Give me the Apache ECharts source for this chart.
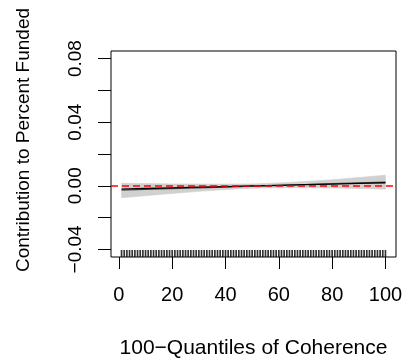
<!DOCTYPE html>
<html>
<head>
<meta charset="utf-8">
<script src="https://cdn.jsdelivr.net/npm/echarts@6/dist/echarts.min.js"></script>
<style>
html,body{margin:0;padding:0;background:#fff;}
#c{width:406px;height:364px;}
</style>
</head>
<body>
<div id="c"></div>
<script>
// ---- data ----
const bandX   = [1, 10, 20, 30, 40, 50, 60, 70, 80, 90, 100];
const bandLow = [-0.0076, -0.0062, -0.0048, -0.0035, -0.0024, -0.0015, -0.0012, -0.0012, -0.0014, -0.0017, -0.0021];
const bandHigh= [0.0016, 0.0014, 0.0012, 0.0011, 0.0011, 0.0012, 0.0018, 0.0027, 0.0038, 0.0052, 0.0067];
const fitGray = [-0.0028, -0.0023, -0.0018, -0.0013, -0.0008, -0.0002, 0.0003, 0.0008, 0.0013, 0.0018, 0.0023];
const fitBlack= [-0.0021, -0.0017, -0.0013, -0.0009, -0.0005, -0.0001, 0.0003, 0.0007, 0.0011, 0.0015, 0.0019];
const rugX = Array.from({length: 100}, (_, i) => i + 1);
const xTicks = [0, 20, 40, 60, 80, 100];
const yTicks = [-0.04, -0.02, 0, 0.02, 0.04, 0.06, 0.08];
const yLabels = [-0.04, 0, 0.04, 0.08];
const xLabel = '100\u2212Quantiles of Coherence';
const yLabel = 'Contribution to Percent Funded';

const FONT = '"Liberation Sans", Arial, Helvetica, sans-serif';
const pair = (xs, ys) => xs.map((x, i) => [x, ys[i]]);
const bandSegs = bandX.slice(0, -1).map((x, i) =>
  [x, bandLow[i], bandHigh[i], bandX[i + 1], bandLow[i + 1], bandHigh[i + 1]]);

const chart = echarts.init(document.getElementById('c'), null, {renderer: 'canvas'});
chart.setOption({
  animation: false,
  backgroundColor: '#ffffff',
  grid: {left: 111, top: 51, width: 285, height: 209, show: true, borderColor: '#000', borderWidth: 1, backgroundColor: 'transparent'},
  xAxis: {
    type: 'value', min: -2.96, max: 103.96,
    splitLine: {show: false},
    axisLine: {show: false, onZero: false},
    axisTick: {show: true, customValues: xTicks, length: 12, lineStyle: {color: '#000', width: 1}},
    axisLabel: {customValues: xTicks, fontSize: 20, color: '#000', fontFamily: FONT, margin: 28},
    name: xLabel, nameLocation: 'middle', nameGap: 81,
    nameTextStyle: {fontSize: 21, color: '#000', fontFamily: FONT}
  },
  yAxis: {
    type: 'value', min: -0.0448, max: 0.0848,
    splitLine: {show: false},
    axisLine: {show: false, onZero: false},
    axisTick: {show: true, customValues: yTicks, length: 13, lineStyle: {color: '#000', width: 1}},
    axisLabel: {customValues: yLabels, rotate: 90, fontSize: 19, color: '#000', fontFamily: FONT, margin: 26,
      formatter: v => v.toFixed(2).replace('-', '\u2212')},
    name: yLabel, nameLocation: 'middle', nameGap: 78, nameRotate: 90,
    nameTextStyle: {fontSize: 19, color: '#000', fontFamily: FONT, padding: [0, 0, 0, 28]}
  },
  series: [
    {type: 'custom', data: bandSegs, silent: true, clip: true,
      renderItem: (params, api) => {
        const p1 = api.coord([api.value(0), api.value(1)]);
        const p2 = api.coord([api.value(3), api.value(4)]);
        const p3 = api.coord([api.value(3), api.value(5)]);
        const p4 = api.coord([api.value(0), api.value(2)]);
        return {type: 'polygon', shape: {points: [p1, p2, p3, p4]},
          style: {fill: '#d0d0d0', stroke: '#d0d0d0', lineWidth: 0.6}};
      }},
    {type: 'line', data: pair(bandX, fitGray), symbol: 'none', lineStyle: {color: '#555555', width: 1.2}},
    {type: 'line', data: pair(bandX, fitBlack), symbol: 'none', lineStyle: {color: '#000000', width: 1.3},
      markLine: {silent: true, symbol: 'none', label: {show: false},
        lineStyle: {color: '#ff0000', type: [7, 4], width: 1.5},
        data: [{yAxis: 0}]}},
    {type: 'scatter', data: rugX.map(x => [x, -0.0448]), symbol: 'rect', symbolSize: [1.7, 7], symbolOffset: [0, -3.5],
      itemStyle: {color: '#000'}, clip: false, silent: true}
  ]
});
</script>
</body>
</html>
